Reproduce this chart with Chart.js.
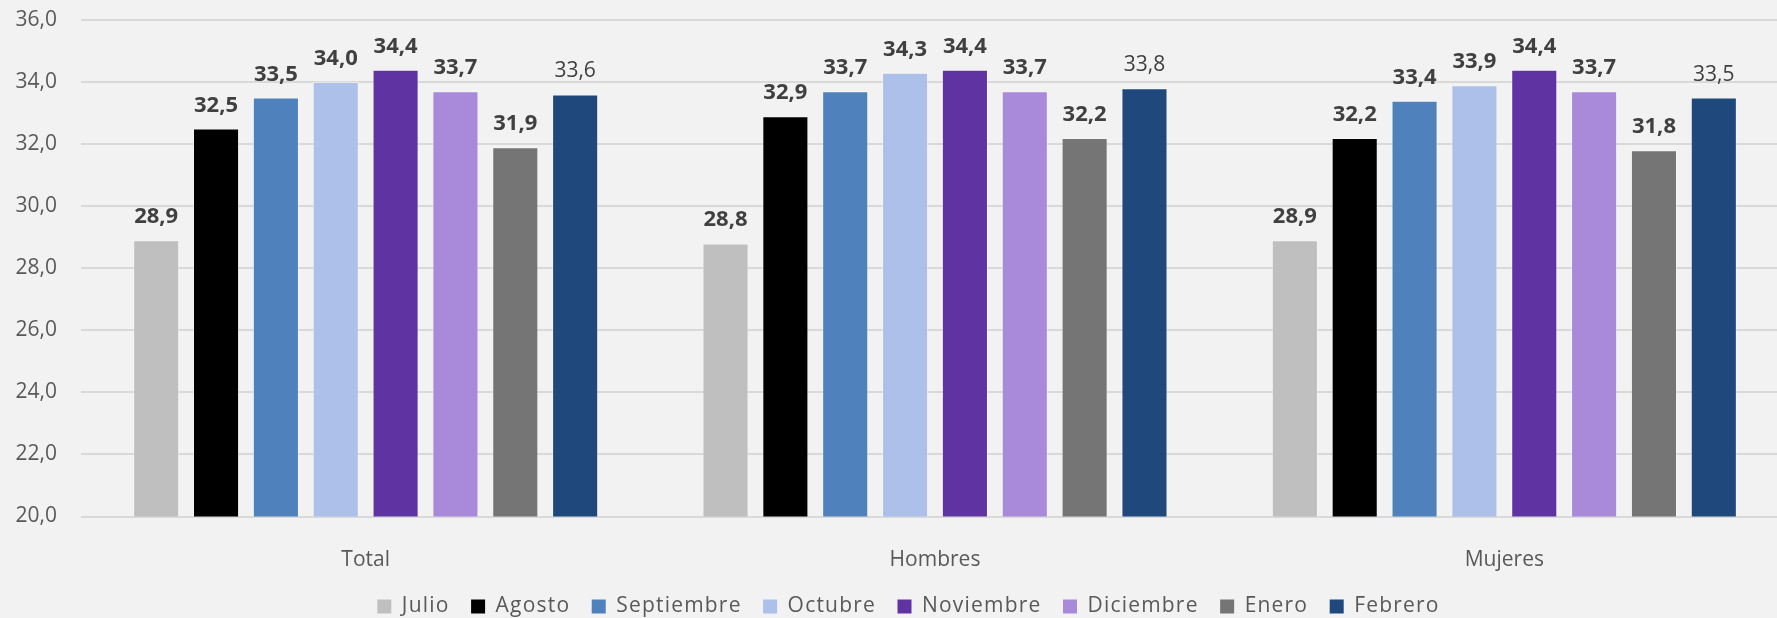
<!DOCTYPE html>
<html><head><meta charset="utf-8">
<script src="https://cdn.jsdelivr.net/npm/chart.js@4"></script>
<style>
html,body{margin:0;padding:0;background:#F2F2F2;overflow:hidden;width:1777px;height:618px;}
#wrap{position:relative;width:1789px;height:627px;}
</style></head><body>
<div id="wrap"><canvas id="c"></canvas></div>
<script>
const categories = ['Total', 'Hombres', 'Mujeres'];
const seriesNames = ['Julio', 'Agosto', 'Septiembre', 'Octubre', 'Noviembre', 'Diciembre', 'Enero', 'Febrero'];
const julio      = [28.9, 28.8, 28.9];
const agosto     = [32.5, 32.9, 32.2];
const septiembre = [33.5, 33.7, 33.4];
const octubre    = [34.0, 34.3, 33.9];
const noviembre  = [34.4, 34.4, 34.4];
const diciembre  = [33.7, 33.7, 33.7];
const enero      = [31.9, 32.2, 31.8];
const febrero    = [33.6, 33.8, 33.5];
const yMin = 20, yMax = 36, yStep = 2;

const seriesValues = [julio, agosto, septiembre, octubre, noviembre, diciembre, enero, febrero];
const colors = ['#BFBFBF', '#000000', '#4F81BD', '#ADC0E9', '#5F34A2', '#A889DA', '#757575', '#1F497D'];
const boldLabel = [true, true, true, true, true, true, true, false];
const FONT = "'Open Sans', 'Noto Sans', sans-serif";

const fmt = v => v.toFixed(1).replace('.', ',');

// Slightly letter-spaced legend text, shifted a little right, like the reference
(function () {
  const L = Chart.Legend && Chart.Legend._element;
  if (!L) return;
  const origFit = L.prototype.fit;
  const origDraw = L.prototype.draw;
  L.prototype.fit = function () {
    this.ctx.save();
    try { this.ctx.letterSpacing = '1.2px'; } catch (e) {}
    origFit.apply(this, arguments);
    this.ctx.restore();
  };
  L.prototype.draw = function () {
    this.ctx.save();
    try { this.ctx.letterSpacing = '1.2px'; } catch (e) {}
    this.ctx.translate(14, 0);
    origDraw.apply(this, arguments);
    this.ctx.restore();
  };
})();

const labelPlugin = {
  id: 'barLabels',
  afterDatasetsDraw(chart) {
    const ctx = chart.ctx;
    ctx.save();
    ctx.textAlign = 'center';
    ctx.textBaseline = 'alphabetic';
    ctx.fillStyle = '#404040';
    chart.data.datasets.forEach((ds, i) => {
      const meta = chart.getDatasetMeta(i);
      ctx.font = boldLabel[i] ? `bold 22px ${FONT}` : `normal 21px ${FONT}`;
      meta.data.forEach((bar, j) => {
        ctx.fillText(fmt(ds.data[j]), bar.x, bar.y - 17);
      });
    });
    ctx.restore();
  }
};

new Chart(document.getElementById('c'), {
  type: 'bar',
  data: {
    labels: categories,
    datasets: seriesNames.map((name, i) => ({
      label: name,
      data: seriesValues[i],
      backgroundColor: colors[i],
      borderColor: 'rgba(255,255,255,0.35)',
      borderWidth: 1,
      categoryPercentage: 0.841,
      barPercentage: 0.77
    }))
  },
  options: {
    responsive: true,
    maintainAspectRatio: false,
    animation: false,
    layout: { padding: { top: 20, left: 0, right: 0, bottom: 0 } },
    plugins: {
      tooltip: { enabled: false },
      legend: {
        position: 'bottom',
        labels: {
          boxWidth: 14,
          boxHeight: 14,
          padding: 21.5,
          color: '#595959',
          font: { family: FONT, size: 21 },
          generateLabels(chart) {
            return chart.data.datasets.map((ds, i) => ({
              text: ds.label,
              fillStyle: colors[i],
              strokeStyle: colors[i],
              lineWidth: 0,
              fontColor: '#595959',
              datasetIndex: i,
              hidden: false
            }));
          }
        }
      }
    },
    scales: {
      x: {
        afterFit(s) { s.height = 58; },
        grid: { display: false },
        border: { display: false },
        ticks: { color: '#595959', font: { family: FONT, size: 21 }, padding: 23 }
      },
      y: {
        min: yMin,
        max: yMax,
        afterFit(s) { s.width = 81; },
        grid: { color: '#D9D9D9', lineWidth: 2, drawTicks: true, tickLength: 24, tickColor: 'rgba(0,0,0,0)' },
        border: { display: false },
        ticks: {
          stepSize: yStep,
          padding: 0,
          color: '#595959',
          font: { family: FONT, size: 21 },
          callback: v => fmt(v)
        }
      }
    }
  },
  plugins: [labelPlugin]
});
</script>
</body></html>
